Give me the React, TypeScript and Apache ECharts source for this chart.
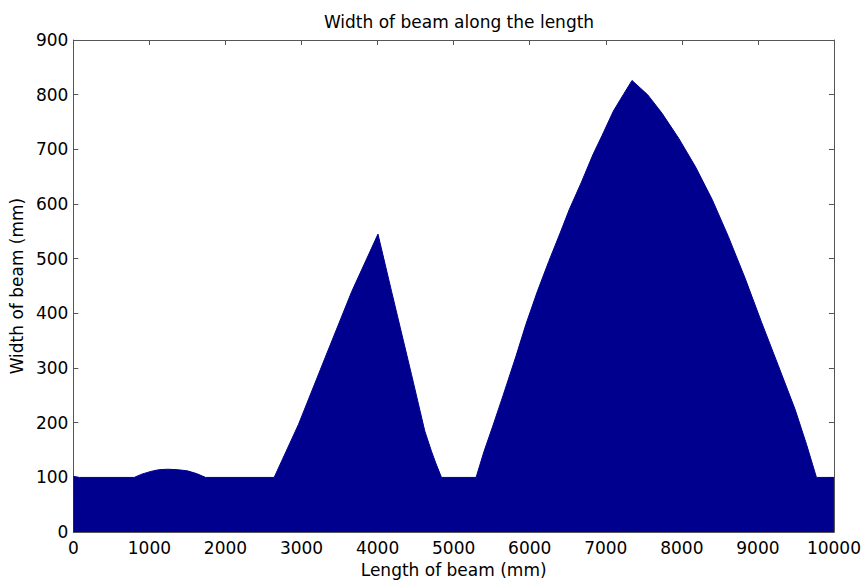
import React, { useEffect, useRef } from "react";
import * as echarts from "echarts";

const lengthMm: number[] = [
  0, 80, 800, 900, 1020, 1120, 1240, 1380, 1500, 1620, 1740,
  2640, 2960, 3310, 3660, 4005, 4184, 4446, 4620, 4708, 4760, 4840,
  5295, 5400, 5515, 5650, 5820, 5950, 6100, 6250, 6400, 6520, 6680, 6830, 6950, 7100, 7230, 7345,
  7550, 7740, 7960, 8180, 8400, 8610, 8830, 9050, 9270, 9490, 9640, 9770, 10000,
];
const widthMm: number[] = [
  102, 100, 100, 106, 111, 114, 115, 114, 112, 107, 100,
  100, 197, 319, 440, 545, 440, 288, 185, 148, 128, 100,
  100, 148, 194, 250, 322, 380, 440, 495, 547, 590, 640, 690, 725, 770, 800, 826,
  800, 766, 720, 668, 608, 541, 465, 383, 304, 224, 160, 100, 100,
];

const xTicks = { min: 0, max: 10000, interval: 1000 };
const yTicks = { min: 0, max: 900, interval: 100 };

const FONT = "'DejaVu Sans', 'Liberation Sans', Arial, sans-serif";
const AXIS_COLOR = "#555555";
const FILL = "#00008F";

export default function App() {
  const ref = useRef<HTMLDivElement>(null);
  useEffect(() => {
    if (!ref.current) return;
    const chart = echarts.init(ref.current, undefined, { renderer: "svg" });
    const data = lengthMm.map((x, i) => [x, widthMm[i]]);
    const axisCommon = {
      type: "value" as const,
      axisLine: { show: true, onZero: false, lineStyle: { color: AXIS_COLOR, width: 1 } },
      axisTick: { show: true, inside: true, length: 5, lineStyle: { color: AXIS_COLOR } },
      splitLine: { show: false },
    };
    const plain = (v: number) => String(v);
    chart.setOption({
      animation: false,
      backgroundColor: "#ffffff",
      textStyle: { fontFamily: FONT },
      title: {
        text: "Width of beam along the length",
        left: 454,
        top: 8,
        textAlign: "center",
        textStyle: { fontFamily: FONT, fontSize: 17, fontWeight: "normal", color: "#000" },
      },
      grid: { left: 72, right: 28, top: 40, bottom: 50, containLabel: false },
      xAxis: [
        {
          ...axisCommon,
          position: "bottom",
          ...xTicks,
          axisLabel: { show: true, fontSize: 17, color: "#000", margin: 7, fontFamily: FONT, formatter: plain },
          name: "Length of beam (mm)",
          nameLocation: "middle",
          nameGap: 28,
          nameTextStyle: { fontSize: 17, color: "#000", fontFamily: FONT },
        },
        {
          ...axisCommon,
          position: "top",
          ...xTicks,
          axisLabel: { show: false },
        },
      ],
      yAxis: [
        {
          ...axisCommon,
          position: "left",
          ...yTicks,
          axisLabel: { show: true, fontSize: 17, color: "#000", margin: 5, fontFamily: FONT, formatter: plain },
          name: "Width of beam (mm)",
          nameLocation: "middle",
          nameGap: 46,
          nameTextStyle: { fontSize: 17, color: "#000", fontFamily: FONT },
        },
        {
          ...axisCommon,
          position: "right",
          ...yTicks,
          axisLabel: { show: false },
        },
      ],
      series: [
        {
          type: "line",
          xAxisIndex: 0,
          yAxisIndex: 0,
          data,
          showSymbol: false,
          symbol: "none",
          lineStyle: { color: FILL, width: 1 },
          areaStyle: { color: FILL, opacity: 1, origin: "start" },
          z: 1,
        },
      ],
    });
    return () => chart.dispose();
  }, []);
  return (
    <div
      ref={ref}
      style={{ position: "fixed", left: 0, top: 0, width: 864, height: 583 }}
    />
  );
}
